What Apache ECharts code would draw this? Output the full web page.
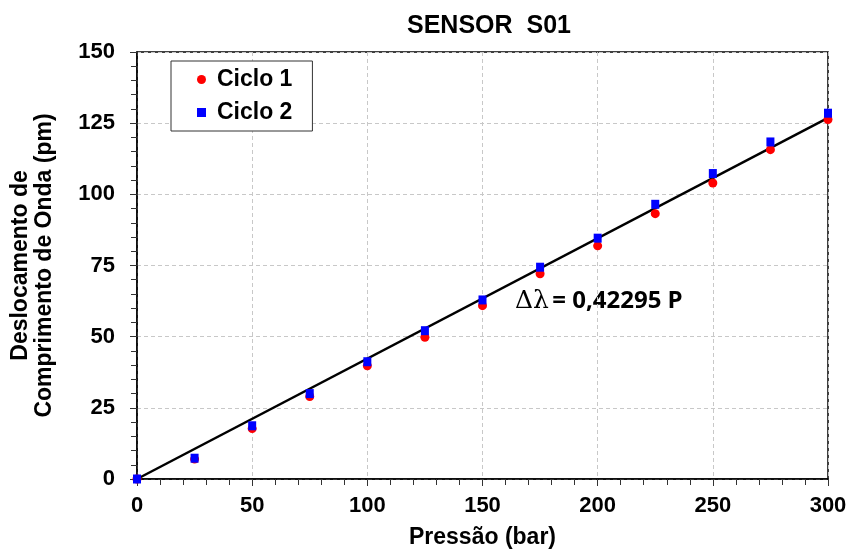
<!DOCTYPE html>
<html>
<head>
<meta charset="utf-8">
<script src="https://cdn.jsdelivr.net/npm/echarts@6/dist/echarts.min.js"></script>
<style>
  html, body { margin: 0; padding: 0; background: #fff; }
  #chart { width: 852px; height: 554px; }
</style>
</head>
<body>
<div id="chart"></div>
<script>
// === Donnees ===
const pressao = [0, 25, 50, 75, 100, 125, 150, 175, 200, 225, 250, 275, 300];
const ciclo1 = [0, 7, 17.7, 29, 39.8, 49.8, 60.9, 72.1, 81.9, 93.2, 104, 115.7, 126.3];
const ciclo2 = [0, 7.3, 18.7, 30, 41.2, 52.1, 62.9, 74.4, 84.6, 96.5, 107.3, 118.4, 128.5];
const inclinacao = 0.42295;
const ajusteX = [0, 300];

const fonte = '"Liberation Sans", Arial, sans-serif';

const chart = echarts.init(document.getElementById('chart'));

const eixoComum = {
    type: 'value',
    axisLine: { show: true, lineStyle: { color: '#000', width: 1.5 } },
    axisTick: { show: true, inside: false, length: 7, lineStyle: { color: '#333', width: 1 } },
    minorTick: { show: true, splitNumber: 5, length: 6, lineStyle: { color: '#333', width: 1 } },
    splitLine: { show: true, lineStyle: { color: '#c8c8c8', type: [4, 3], width: 1 } },
    axisLabel: { color: '#000', fontFamily: fonte, fontWeight: 'bold', fontSize: 22 },
    nameTextStyle: { color: '#000', fontFamily: fonte, fontWeight: 'bold', fontSize: 22 }
};

const option = {
    animation: false,
    title: {
        text: 'SENSOR  S01',
        left: 484, top: 9, textAlign: 'center',
        textStyle: { color: '#000', fontFamily: fonte, fontWeight: 'bold', fontSize: 25 }
    },
    grid: {
        left: 137, right: 24, top: 52, bottom: 75,
        outerBoundsMode: 'none', containLabel: false,
        show: true, borderColor: '#000', borderWidth: 1.5
    },
    legend: {
        left: 171, top: 61, orient: 'vertical',
        padding: [7, 20, 7, 26], itemGap: 10,
        backgroundColor: '#fff', borderColor: '#333', borderWidth: 1,
        itemWidth: 9, itemHeight: 9,
        textStyle: { color: '#000', fontFamily: fonte, fontWeight: 'bold', fontSize: 23, padding: [0, 0, 0, 6] },
        data: [
            { name: 'Ciclo 1', icon: 'circle', itemStyle: { color: '#ff0000' } },
            { name: 'Ciclo 2', icon: 'rect', itemStyle: { color: '#0000ff' } }
        ]
    },
    xAxis: Object.assign({}, eixoComum, {
        min: 0, max: 300, interval: 50,
        name: 'Pressão (bar)', nameLocation: 'middle', nameGap: 47,
        nameTextStyle: Object.assign({}, eixoComum.nameTextStyle, { fontSize: 23 }),
        axisLabel: Object.assign({}, eixoComum.axisLabel, { margin: 16 })
    }),
    yAxis: Object.assign({}, eixoComum, {
        min: 0, max: 150, interval: 25,
        name: 'Deslocamento de\nComprimento de Onda (pm)', nameLocation: 'middle', nameGap: 80,
        nameTextStyle: Object.assign({}, eixoComum.nameTextStyle, { fontSize: 23, lineHeight: 24 }),
        axisLabel: Object.assign({}, eixoComum.axisLabel, { margin: 22 })
    }),
    series: [
        {
            name: 'Ajuste', type: 'line', symbol: 'none', z: 1,
            lineStyle: { color: '#000', width: 2.5 },
            data: ajusteX.map(x => [x, inclinacao * x])
        },
        {
            name: 'Ciclo 1', type: 'scatter', symbol: 'circle', symbolSize: 9, z: 2,
            itemStyle: { color: '#ff0000', opacity: 1 },
            data: pressao.map((p, i) => [p, ciclo1[i]])
        },
        {
            name: 'Ciclo 2', type: 'scatter', symbol: 'rect', symbolSize: [8, 9], z: 3,
            itemStyle: { color: '#0000ff', opacity: 1 },
            data: pressao.map((p, i) => [p, ciclo2[i]])
        }
    ],
    graphic: [{
        type: 'text', left: 515, top: 289,
        style: {
            text: '{d|Δλ} {b|= 0,42295 P}',
            rich: {
                d: { fill: '#000', fontFamily: '"DejaVu Serif", serif', fontSize: 25 },
                b: { fill: '#000', fontFamily: '"Open Sans", sans-serif', fontWeight: 'bold', fontSize: 24 }
            }
        }
    }]
};

chart.setOption(option);
</script>
</body>
</html>
